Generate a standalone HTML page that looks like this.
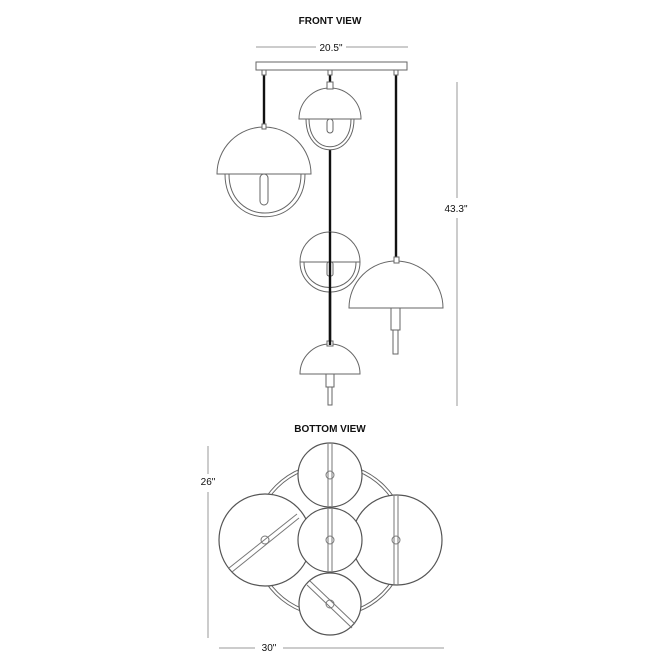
<!DOCTYPE html>
<html><head><style>
html,body{margin:0;padding:0;background:#fff;width:667px;height:667px;overflow:hidden}
svg{display:block}
text{font-family:"Liberation Sans",sans-serif;font-size:10px;fill:#111}
</style></head><body>
<svg width="667" height="667" viewBox="0 0 667 667" fill="none" stroke="#666" stroke-width="1">
<text x="330" y="24" text-anchor="middle" stroke="none" font-weight="bold">FRONT VIEW</text>
<text x="330" y="432" text-anchor="middle" stroke="none" font-weight="bold">BOTTOM VIEW</text>
<!-- dims -->
<line x1="256" y1="47" x2="316" y2="47" stroke="#999"/>
<line x1="346" y1="47" x2="408" y2="47" stroke="#999"/>
<text x="331" y="51" text-anchor="middle" stroke="none">20.5"</text>
<line x1="457" y1="82" x2="457" y2="198" stroke="#999"/>
<line x1="457" y1="218" x2="457" y2="406" stroke="#999"/>
<text x="456" y="212" text-anchor="middle" stroke="none">43.3"</text>
<line x1="208" y1="446" x2="208" y2="474" stroke="#999"/>
<line x1="208" y1="492" x2="208" y2="638" stroke="#999"/>
<text x="208" y="485" text-anchor="middle" stroke="none">26"</text>
<line x1="219" y1="648" x2="255" y2="648" stroke="#999"/>
<line x1="283" y1="648" x2="444" y2="648" stroke="#999"/>
<text x="269" y="651" text-anchor="middle" stroke="none">30"</text>
<!-- canopy -->
<rect x="256" y="62" width="151" height="8" fill="#fff"/>
<!-- cords -->
<g stroke="#111" stroke-width="2.4">
<line x1="264" y1="74" x2="264" y2="125"/>
<line x1="330" y1="74" x2="330" y2="84"/>
<line x1="330" y1="120" x2="330" y2="345"/>
<line x1="396" y1="74" x2="396" y2="258"/>
</g>
<g fill="#fff">
<rect x="262" y="70" width="4" height="5"/><rect x="328" y="70" width="4" height="5"/><rect x="394" y="70" width="4" height="5"/>
<!-- left pendant -->
<path d="M225 174 C225 231 305 231 305 174"/><path d="M229 174 C229 226 301 226 301 174"/>
<rect x="260" y="174" width="8" height="31" rx="4"/>
<path d="M217 174 A47 47 0 0 1 311 174 Z"/>
<rect x="262" y="124" width="4" height="5"/>
<!-- top middle -->
<path d="M306 119 C306 160 354 160 354 119"/><path d="M309 119 C309 156 351 156 351 119"/>
<rect x="327" y="119" width="6" height="14" rx="3"/>
<path d="M299 119 A31 31 0 0 1 361 119 Z"/>
<rect x="327" y="82" width="6" height="7"/>
<!-- middle -->
<path d="M300 262 A30 30 0 0 0 360 262"/><path d="M304 262 C304 296 356 296 356 262"/>
<path d="M300 262 A30 30 0 0 1 360 262 Z"/>
<rect x="327" y="262" width="6" height="14" rx="2"/>
<!-- right -->
<rect x="391" y="308" width="9" height="22"/><rect x="393" y="330" width="5" height="24"/>
<path d="M349 308 A47 47 0 0 1 443 308 Z"/>
<rect x="394" y="257" width="5" height="6"/>
<!-- bottom -->
<rect x="326" y="374" width="8" height="13"/><rect x="328" y="387" width="4" height="18"/>
<path d="M300 374 A30 30 0 0 1 360 374 Z"/>
<rect x="327" y="341" width="6" height="5"/>
</g>
<line x1="330" y1="232" x2="330" y2="345" stroke="#111" stroke-width="2.4"/>
<!-- bottom view -->
<circle cx="330" cy="540" r="77"/><circle cx="330" cy="540" r="74"/>
<g fill="#fff" stroke="#555" stroke-width="1.2">
<circle cx="265" cy="540" r="46"/><circle cx="397" cy="540" r="45"/>
<circle cx="330" cy="475" r="32"/><circle cx="330" cy="540" r="32"/><circle cx="330" cy="604" r="31"/>
</g>
<g stroke="#777">
<line x1="328" y1="444" x2="328" y2="506"/><line x1="332" y1="444" x2="332" y2="506"/>
<line x1="328" y1="509" x2="328" y2="571"/><line x1="332" y1="509" x2="332" y2="571"/>
<line x1="394" y1="496" x2="394" y2="585"/><line x1="398" y1="496" x2="398" y2="585"/>
<line x1="229" y1="568" x2="297" y2="514"/><line x1="232" y1="572" x2="299" y2="518"/>
<line x1="307" y1="585" x2="352" y2="628"/><line x1="310" y1="581" x2="355" y2="624"/>
<circle cx="330" cy="475" r="4"/><circle cx="330" cy="540" r="4"/><circle cx="330" cy="604" r="4"/>
<circle cx="265" cy="540" r="4"/><circle cx="396" cy="540" r="4"/>
</g>
</svg>
</body></html>
